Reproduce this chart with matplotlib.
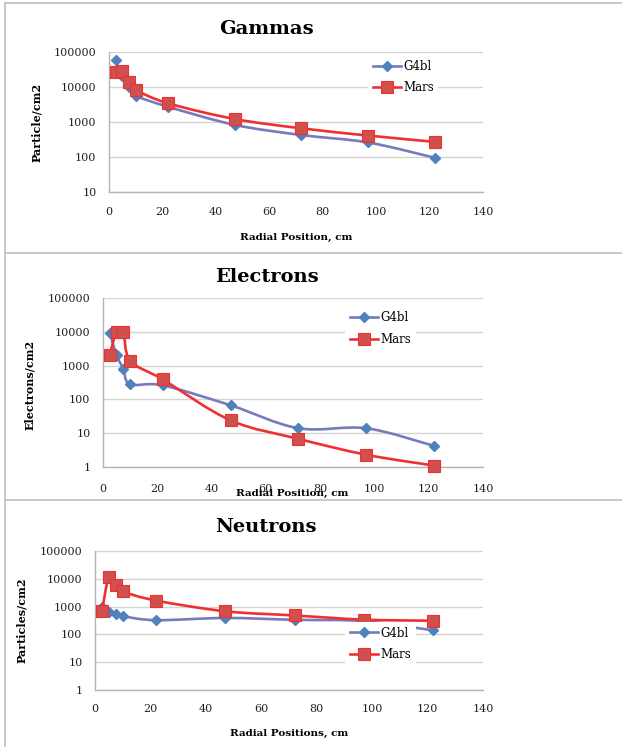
import numpy as np
import matplotlib
matplotlib.use("Agg")
import matplotlib.pyplot as plt
from matplotlib.path import Path
from matplotlib.patches import PathPatch
from matplotlib.lines import Line2D

# radial positions (cm) and flux values
pos_cm = [2.5, 5, 7.5, 10, 22, 47, 72, 97, 122]

gamma_g4bl = [58000, 20000, 10300, 5700, 2750, 830, 425, 260, 95]
gamma_mars = [26500, 29000, 14000, 8300, 3450, 1220, 660, 410, 270]

elec_g4bl = [9500, 2000, 800, 280, 260, 67, 14, 14, 4.2]
elec_mars = [2100, 9900, 9900, 1400, 390, 24, 6.8, 2.3, 1.1]

neut_g4bl = [950, 650, 520, 450, 325, 390, 335, 300, 140]
neut_mars = [680, 11500, 5800, 3500, 1650, 680, 480, 340, 310]

series_names = ["G4bl", "Mars"]
x_ticks = [0, 20, 40, 60, 80, 100, 120, 140]

W, H = 622, 747
plt.rcParams["font.family"] = ["DejaVu Serif"]

BLUE_LINE = "#777bbb"
BLUE_MARK = "#4f81bd"
RED_LINE = "#f03030"
RED_MARK = "#d0504d"
GRID = "#d4d4d4"
FRAME = "#c4c4c4"


def smooth_path(x, y):
    # Excel style smoothed line: Catmull-Rom in (x, log10 y) space
    pts = np.column_stack([np.asarray(x, float), np.log10(y)])
    n = len(pts)
    verts = [pts[0]]
    codes = [Path.MOVETO]
    for i in range(n - 1):
        p0 = pts[i - 1] if i > 0 else pts[i]
        p1, p2 = pts[i], pts[i + 1]
        p3 = pts[i + 2] if i + 2 < n else pts[i + 1]
        verts += [p1 + (p2 - p0) / 6, p2 - (p3 - p1) / 6, p2]
        codes += [Path.CURVE4] * 3
    v = np.array(verts)
    v[:, 1] = 10 ** v[:, 1]
    return Path(v, codes)


def box(l, r, top, bot):
    return [l / W, 1 - bot / H, (r - l) / W, (bot - top) / H]


def panel(fig, rect, g4bl, mars, ymin, leg_anchor, tick_pad):
    ax = fig.add_axes(rect)
    ax.set_yscale("log")
    ax.set_xlim(0, 140)
    ax.set_ylim(ymin, 100000)
    decades = [10 ** k for k in range(int(np.log10(ymin)), 6)]
    ax.set_yticks(decades)
    ax.set_yticklabels([str(d) for d in decades])
    ax.minorticks_off()
    ax.set_xticks(x_ticks)
    ax.set_xticklabels([str(t) for t in x_ticks])
    ax.tick_params(length=0, labelsize=8, colors="#222222")
    ax.tick_params(axis="y", pad=9)
    ax.tick_params(axis="x", pad=tick_pad)
    ax.grid(axis="y", color=GRID, lw=1.0)
    ax.set_axisbelow(True)
    for s in ["top", "right"]:
        ax.spines[s].set_visible(False)
    for s in ["left", "bottom"]:
        ax.spines[s].set_color("#b4b4b4")
        ax.spines[s].set_linewidth(1.0)

    ax.add_patch(PathPatch(smooth_path(pos_cm, g4bl), fc="none",
                           ec=BLUE_LINE, lw=1.9, zorder=3))
    ax.plot(pos_cm, g4bl, ls="none", marker="D", ms=5.5,
            mfc=BLUE_MARK, mec=BLUE_MARK, zorder=4, clip_on=False)
    ax.add_patch(PathPatch(smooth_path(pos_cm, mars), fc="none",
                           ec=RED_LINE, lw=1.9, zorder=5))
    ax.plot(pos_cm, mars, ls="none", marker="s", ms=8,
            mfc=RED_MARK, mec=RED_LINE, mew=0.8, zorder=6, clip_on=False)

    handles = [
        Line2D([], [], color=BLUE_LINE, lw=1.9, marker="D", ms=5.5,
               mfc=BLUE_MARK, mec=BLUE_MARK),
        Line2D([], [], color=RED_LINE, lw=1.9, marker="s", ms=8,
               mfc=RED_MARK, mec=RED_LINE, mew=0.8),
    ]
    leg = ax.legend(handles, series_names, loc="center left",
                    bbox_to_anchor=leg_anchor, borderaxespad=0,
                    borderpad=0.4, handlelength=2.4, handletextpad=0.15,
                    labelspacing=0.75, numpoints=1, fontsize=8.5,
                    frameon=True, fancybox=False)
    leg.get_frame().set_facecolor("white")
    leg.get_frame().set_edgecolor("none")
    leg.get_frame().set_alpha(1)
    leg.set_zorder(7)
    return ax


fig = plt.figure(figsize=(W / 100, H / 100), dpi=100)

panel(fig, box(109, 483, 52, 192), gamma_g4bl, gamma_mars, 10,
      (0.693, 0.821), 11)
panel(fig, box(103, 483, 298, 467), elec_g4bl, elec_mars, 1,
      (0.638, 0.817), 12)
panel(fig, box(95, 483, 551, 690), neut_g4bl, neut_mars, 1,
      (0.645, 0.331), 10)


def fx(px):
    return px / W


def fy(py):
    return 1 - py / H


# titles
for txt, cx, cy in [("Gammas", 266, 29), ("Electrons", 267, 277),
                    ("Neutrons", 266, 527)]:
    fig.text(fx(cx), fy(cy), txt, ha="center", va="center",
             fontsize=14, fontweight="bold")

# axis labels (the electrons one sits on its tick labels, as in the original)
for txt, cx, cy in [("Radial Position, cm", 296, 237),
                    ("Radial Position, cm", 292, 493),
                    ("Radial Positions, cm", 289, 733)]:
    fig.text(fx(cx), fy(cy), txt, ha="center", va="center",
             fontsize=7.5, fontweight="bold")
for txt, cx, cy in [("Particle/cm2", 37, 122), ("Electrons/cm2", 30, 385),
                    ("Particles/cm2", 22, 620)]:
    fig.text(fx(cx), fy(cy), txt, ha="center", va="center",
             fontsize=8, fontweight="bold", rotation=90)

# panel borders
for py in [3, 252.5, 500]:
    fig.add_artist(Line2D([fx(5), 1], [fy(py), fy(py)], color=FRAME, lw=1.3))
fig.add_artist(Line2D([fx(5), fx(5)], [fy(3), 0], color=FRAME, lw=1.3))

fig.savefig("out.png", dpi=100)
